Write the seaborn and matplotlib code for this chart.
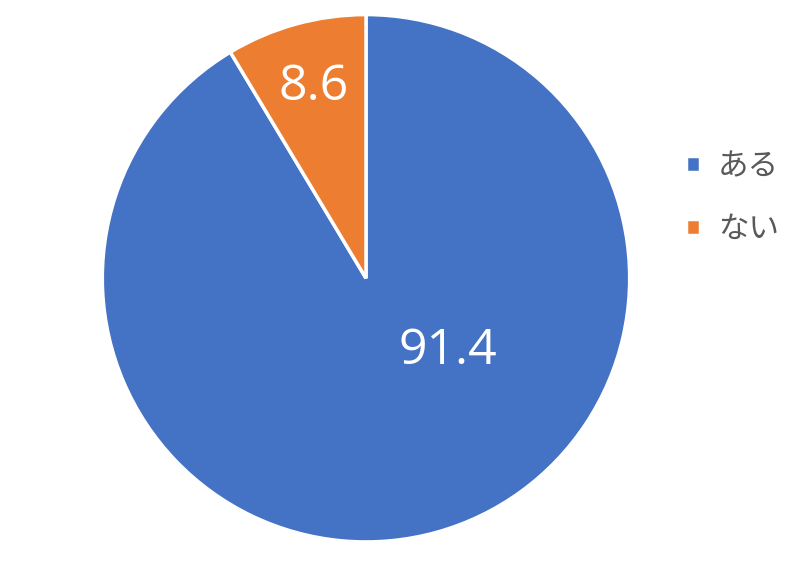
import matplotlib
matplotlib.use("Agg")
import matplotlib.pyplot as plt
import seaborn as sns

sns.set_theme(style="white")
plt.rcParams["font.family"] = ["Noto Sans CJK JP", "DejaVu Sans"]

labels = ["ある", "ない"]
values = [91.4, 8.6]
colors = sns.color_palette(["#4472C4", "#ED7D31"])
# label positions in data units (Excel-style placement)
label_pos = [(0.31, -0.275), (-0.2, 0.725)]

fig = plt.figure(figsize=(8, 5.61), dpi=100)
ax = fig.add_axes([0.1275, 0.034, 0.66, 0.94])

wedges, _ = ax.pie(values, colors=colors, startangle=90, counterclock=False,
                   radius=1, wedgeprops=dict(edgecolor="white", linewidth=2.5))
ax.set_xlim(-1.0, 1.0)
ax.set_ylim(-1.0, 1.0)
ax.set_aspect("equal")

for v, (x, y) in zip(values, label_pos):
    ax.text(x, y, f"{v}", ha="center", va="center", color="white",
            fontsize=36, family=["Open Sans", "DejaVu Sans"])

leg = fig.legend(wedges, labels, loc="center left", bbox_to_anchor=(0.823, 0.647),
                 frameon=False, fontsize=22, handlelength=0.45, handleheight=0.45,
                 handletextpad=0.6, labelspacing=1.05, labelcolor="#595959")

fig.savefig("out.png", dpi=100)
